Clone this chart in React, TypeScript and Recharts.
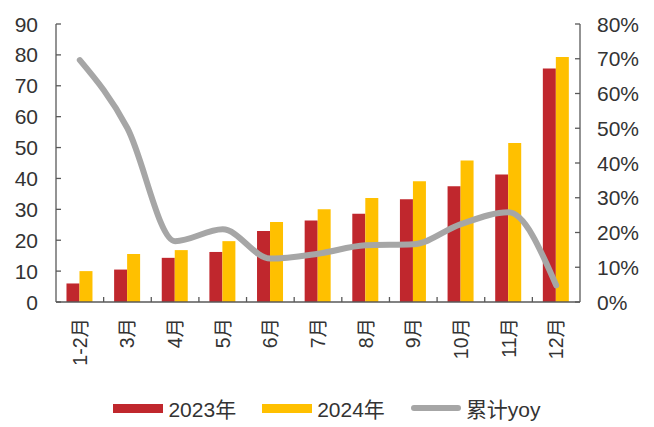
import { Bar, ComposedChart, Legend, Line, XAxis, YAxis } from 'recharts'

const months = ['1-2月', '3月', '4月', '5月', '6月', '7月', '8月', '9月', '10月', '11月', '12月']
const sales2023 = [6.0, 10.5, 14.3, 16.2, 23.0, 26.4, 28.6, 33.3, 37.5, 41.3, 75.6]
const sales2024 = [10.0, 15.5, 16.8, 19.7, 25.9, 30.0, 33.7, 39.1, 45.8, 51.5, 79.3]
const yoy = [0.696, 0.5, 0.175, 0.209, 0.125, 0.139, 0.163, 0.166, 0.224, 0.258, 0.048]
const leftTicks = [0, 10, 20, 30, 40, 50, 60, 70, 80, 90]
const rightTicks = [0, 0.1, 0.2, 0.3, 0.4, 0.5, 0.6, 0.7, 0.8]

const data = months.map((m, i) => ({ month: m, a: sales2023[i], b: sales2024[i], yoy: yoy[i] }))

const FONT = '"Liberation Sans", Arial, "Noto Sans CJK SC", sans-serif'
const AXIS = '#595959'
const TEXT = '#333333'
const RED = '#c0272d'
const YELLOW = '#ffc000'
const GREY = '#a6a6a6'

const LEFT_MARGIN = 18
const RIGHT_MARGIN = 17
const PLOT_W = 524

function LeftTick(props: any) {
  const { x, y, payload } = props
  const ax = x + LEFT_MARGIN
  return (
    <g>
      <line x1={ax} x2={ax + 5} y1={y} y2={y} stroke={AXIS} strokeWidth={1.3} />
      <text x={x} y={y} dy="0.36em" textAnchor="end" fontSize={21} fill={TEXT} fontFamily={FONT}>
        {payload.value}
      </text>
    </g>
  )
}

function RightTick(props: any) {
  const { x, y, payload } = props
  const ax = x - RIGHT_MARGIN
  return (
    <g>
      <line x1={ax - 5} x2={ax} y1={y} y2={y} stroke={AXIS} strokeWidth={1.3} />
      <text x={x} y={y} dy="0.36em" textAnchor="start" fontSize={21} fill={TEXT} fontFamily={FONT}>
        {`${Math.round(payload.value * 100)}%`}
      </text>
    </g>
  )
}

function MonthTick(props: any) {
  const { x, y, payload, index } = props
  const half = payload.offset || PLOT_W / months.length / 2
  const axisY = y - 8
  return (
    <g>
      {index < months.length - 1 && (
        <line x1={x + half} x2={x + half} y1={axisY} y2={axisY - 5} stroke={AXIS} strokeWidth={1.3} />
      )}
      <g transform={`translate(${x},${axisY})`}>
        <text transform="rotate(-90)" x={-16} y={0} dy="0.36em" textAnchor="end" fontSize={19.5} fill={TEXT} fontFamily={FONT}>
          {payload.value}
        </text>
      </g>
    </g>
  )
}

function LegendContent() {
  const items = [
    { label: '2023年', color: RED, kind: 'bar' },
    { label: '2024年', color: YELLOW, kind: 'bar' },
    { label: '累计yoy', color: GREY, kind: 'line' },
  ]
  return (
    <div style={{ height: 55, display: 'flex', justifyContent: 'center', alignItems: 'center', paddingTop: 17, boxSizing: 'border-box', fontFamily: FONT }}>
      {items.map((it) => (
        <div key={it.label} style={{ display: 'flex', alignItems: 'center', margin: '0 13px' }}>
          <div
            style={{
              width: 50,
              height: it.kind === 'bar' ? 9 : 6,
              background: it.color,
              borderRadius: it.kind === 'bar' ? 0 : 3,
              marginRight: 5,
            }}
          />
          <span style={{ fontSize: 21, color: TEXT }}>{it.label}</span>
        </div>
      ))}
    </div>
  )
}

export default function App() {
  return (
    <div style={{ position: 'absolute', left: 0, top: 0, background: '#fff' }}>
      <ComposedChart
        width={654}
        height={427}
        data={data}
        margin={{ top: 24, right: 0, left: 0, bottom: 0 }}
        barCategoryGap="22%"
        barGap={0}
      >
        <XAxis
          dataKey="month"
          height={70}
          axisLine={{ stroke: AXIS, strokeWidth: 1.3 }}
          tickLine={false}
          tickSize={0}
          tickMargin={8}
          interval={0}
          tick={<MonthTick />}
        />
        <YAxis
          yAxisId="left"
          width={56}
          domain={[0, 90]}
          ticks={leftTicks}
          axisLine={{ stroke: AXIS, strokeWidth: 1.3 }}
          tickLine={false}
          tickSize={0}
          tickMargin={LEFT_MARGIN}
          tick={<LeftTick />}
        />
        <YAxis
          yAxisId="right"
          orientation="right"
          width={74}
          domain={[0, 0.8]}
          ticks={rightTicks}
          axisLine={{ stroke: AXIS, strokeWidth: 1.3 }}
          tickLine={false}
          tickSize={0}
          tickMargin={RIGHT_MARGIN}
          tick={<RightTick />}
        />
        <Legend verticalAlign="bottom" content={<LegendContent />} />
        <Bar yAxisId="left" dataKey="a" name="2023年" fill={RED} isAnimationActive={false} />
        <Bar yAxisId="left" dataKey="b" name="2024年" fill={YELLOW} isAnimationActive={false} />
        <Line
          yAxisId="right"
          dataKey="yoy"
          name="累计yoy"
          type="monotone"
          stroke={GREY}
          strokeWidth={6}
          strokeLinecap="round"
          dot={false}
          activeDot={false}
          isAnimationActive={false}
        />
      </ComposedChart>
    </div>
  )
}
